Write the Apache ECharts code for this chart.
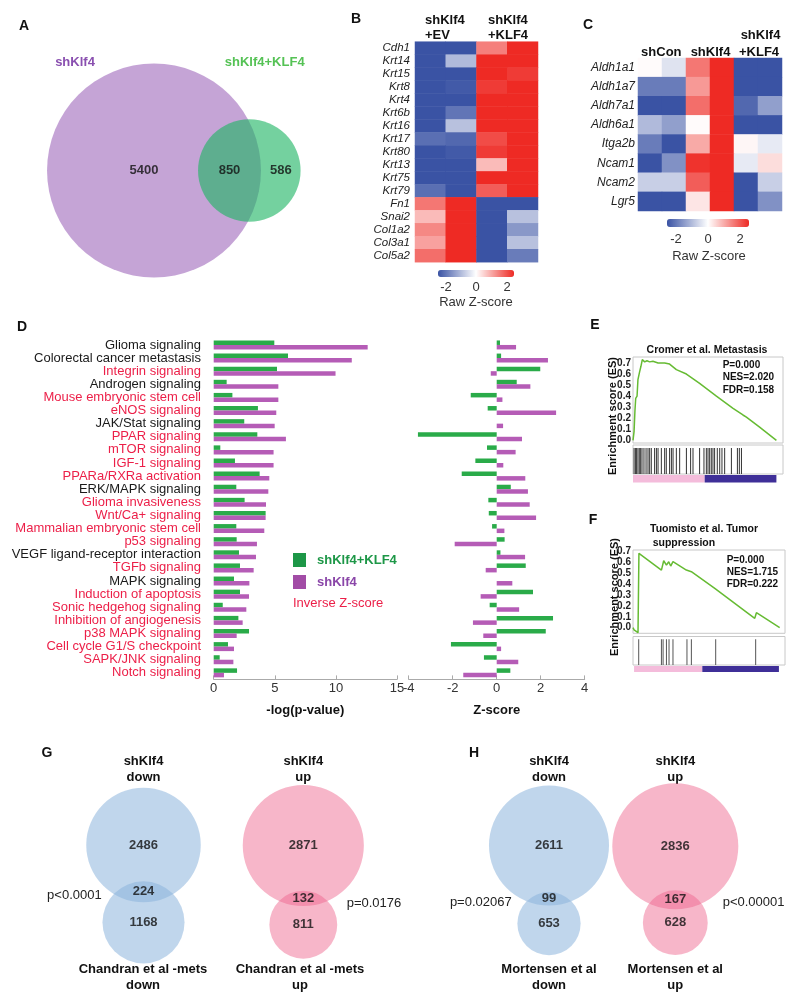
<!DOCTYPE html>
<html>
<head>
<meta charset="utf-8">
<script src="https://cdn.jsdelivr.net/npm/echarts@6/dist/echarts.min.js"></script>
<style>
html, body { margin: 0; background: #fff; }
#main { width: 800px; height: 1008px; }
</style>
</head>
<body>
<div id="main"></div>
<script>
const FONT = '"Liberation Sans", Arial, sans-serif'

// Venn counts: [only first set, overlap, only second set]
const vennA = [5400, 850, 586]
const vennGDown = [2486, 224, 1168]
const vennGUp = [2871, 132, 811]
const vennHDown = [2611, 99, 653]
const vennHUp = [2836, 167, 628]

// panel B heatmap
const bGenes = ['Cdh1', 'Krt14', 'Krt15', 'Krt8', 'Krt4', 'Krt6b', 'Krt16', 'Krt17', 'Krt80', 'Krt13', 'Krt75', 'Krt79', 'Fn1', 'Snai2', 'Col1a2', 'Col3a1', 'Col5a2']
const bSamples = ['EV-1', 'EV-2', 'KLF4-1', 'KLF4-2']
const bZ = [
    [-2.5, -2.5, 1.5, 2.5],
    [-2.5, -1.0, 2.5, 2.5],
    [-2.5, -2.5, 2.5, 2.3],
    [-2.5, -2.4, 2.3, 2.5],
    [-2.5, -2.5, 2.5, 2.5],
    [-2.5, -2.0, 2.5, 2.5],
    [-2.5, -0.9, 2.5, 2.5],
    [-2.1, -2.2, 2.1, 2.5],
    [-2.5, -2.4, 2.3, 2.5],
    [-2.5, -2.5, 0.8, 2.5],
    [-2.5, -2.5, 2.5, 2.5],
    [-2.1, -2.5, 1.9, 2.5],
    [1.6, 2.5, -2.5, -2.5],
    [0.8, 2.5, -2.5, -0.9],
    [1.4, 2.5, -2.5, -1.5],
    [1.1, 2.5, -2.5, -0.9],
    [1.7, 2.5, -2.5, -1.9]
]

// panel C heatmap
const cGenes = ['Aldh1a1', 'Aldh1a7', 'Aldh7a1', 'Aldh6a1', 'Itga2b', 'Ncam1', 'Ncam2', 'Lgr5']
const cSamples = ['shCon-1', 'shCon-2', 'shKlf4-1', 'shKlf4-2', 'KLF4-1', 'KLF4-2']
const cZ = [
    [0.05, -0.4, 1.6, 2.5, -2.5, -2.5],
    [-1.9, -1.9, 1.2, 2.5, -2.5, -2.5],
    [-2.5, -2.5, 1.7, 2.5, -2.2, -1.4],
    [-1.0, -1.4, 0.05, 2.5, -2.5, -2.5],
    [-1.9, -2.5, 1.0, 2.5, 0.1, -0.3],
    [-2.5, -1.6, 2.4, 2.5, -0.3, 0.4],
    [-0.7, -0.7, 1.9, 2.5, -2.5, -0.7],
    [-2.5, -2.5, 0.3, 2.5, -2.5, -1.6]
]

// panel D pathways
const pathways = ['Glioma signaling', 'Colorectal cancer metastasis', 'Integrin signaling', 'Androgen signaling', 'Mouse embryonic stem cell', 'eNOS signaling', 'JAK/Stat signaling', 'PPAR signaling', 'mTOR signaling', 'IGF-1 signaling', 'PPARa/RXRa activation', 'ERK/MAPK signaling', 'Glioma invasiveness', 'Wnt/Ca+ signaling', 'Mammalian embryonic stem cell', 'p53 signaling', 'VEGF ligand-receptor interaction', 'TGFb signaling', 'MAPK signaling', 'Induction of apoptosis', 'Sonic hedgehog signaling', 'Inhibition of angiogenesis', 'p38 MAPK signaling', 'Cell cycle G1/S checkpoint', 'SAPK/JNK signaling', 'Notch signaling']
const inverseZ = [0, 0, 1, 0, 1, 1, 0, 1, 1, 1, 1, 0, 1, 1, 1, 1, 0, 1, 0, 1, 1, 1, 1, 1, 1, 1]
const logpRescue = [4.96, 6.08, 5.18, 1.06, 1.53, 3.62, 2.5, 3.57, 0.54, 1.74, 3.76, 1.85, 2.53, 4.25, 1.85, 1.88, 2.07, 2.15, 1.66, 2.15, 0.74, 2.02, 2.89, 1.17, 0.49, 1.91]
const logpKd = [12.6, 11.3, 9.97, 5.29, 5.29, 5.12, 4.99, 5.91, 4.9, 4.9, 4.55, 4.47, 4.28, 4.25, 4.14, 3.54, 3.46, 3.27, 2.92, 2.89, 2.67, 2.37, 1.88, 1.66, 1.61, 0.84]
const zRescue = [0.15, 0.2, 1.98, 0.91, -1.18, -0.41, 0, -3.58, -0.44, -0.97, -1.59, 0.64, -0.38, -0.36, -0.21, 0.36, 0.17, 1.32, 0, 1.65, -0.32, 2.56, 2.23, -2.08, -0.58, 0.62]
const zKd = [0.88, 2.33, -0.27, 1.53, 0.26, 2.7, 0.29, 1.15, 0.86, 0.3, 1.3, 1.42, 1.5, 1.79, 0.35, -1.91, 1.29, -0.5, 0.71, -0.73, 1.02, -1.08, -0.61, 0.2, 0.98, -1.52]

// panel E: running enrichment score (rank in % of list)
const eRank = [0, 0.7, 1.3, 1.8, 2.7, 3.3, 4.4, 5.3, 6.2, 7.8, 9.3, 11.1, 13.3, 16.7, 21.1, 24.4, 28.9, 35.6, 44.4, 55.6, 66.7, 73.3, 75.6, 84.4, 95.6]
const eES = [0, 0.08, 0.27, 0.38, 0.4, 0.55, 0.62, 0.67, 0.73, 0.71, 0.72, 0.71, 0.715, 0.7, 0.7, 0.69, 0.64, 0.6, 0.515, 0.4, 0.29, 0.23, 0.21, 0.12, 0]
const eHits = [0.7, 1.6, 2.4, 3.3, 4.2, 5.1, 6.0, 7.3, 8.7, 10, 11.1, 12.2, 14.4, 15.6, 16.7, 18.9, 21.1, 22.2, 24.4, 25.6, 26.7, 28.9, 31.1, 35.6, 38.4, 40, 44.4, 47.3, 48.9, 50, 51.1, 52.2, 53.3, 54.4, 56.2, 57.8, 59.3, 61.1, 65.6, 69.6, 70.9, 72.3]
const eBand = [0, 47.8, 95.6]

// panel F
const fRank = [0, 0.7, 3.3, 3.9, 18.7, 20.2, 22, 23.5, 24.8, 26.3, 35.1, 38.4, 53.8, 80.1, 81.2, 96.5]
const fES = [0, -0.02, -0.046, 0.685, 0.53, 0.617, 0.577, 0.608, 0.568, 0.608, 0.531, 0.516, 0.362, 0.086, 0.138, 0]
const fHits = [3.75, 18.7, 19.8, 22, 23.7, 26.3, 35.5, 38.4, 54.4, 80.7]
const fBand = [0.7, 45.6, 96]

// ---------- venn geometry ----------
function lensArea(r1, r2, d) {
    if (d >= r1 + r2) return 0
    if (d <= Math.abs(r1 - r2)) return Math.PI * Math.min(r1, r2) ** 2
    const a1 = Math.acos((d * d + r1 * r1 - r2 * r2) / (2 * d * r1))
    const a2 = Math.acos((d * d + r2 * r2 - r1 * r1) / (2 * d * r2))
    return r1 * r1 * a1 + r2 * r2 * a2 - 0.5 * Math.sqrt((-d + r1 + r2) * (d + r1 - r2) * (d - r1 + r2) * (d + r1 + r2))
}

const vennColors = ['rgba(150,90,180,0.55)', 'rgba(30,180,100,0.62)', 'rgba(140,180,220,0.55)', 'rgba(238,100,140,0.47)']
const circles = []
const vennLabels = []

function venn(counts, spot) {
    const [a, ab, b] = counts
    const r1 = spot.k * Math.sqrt(a + ab)
    const r2 = spot.k * Math.sqrt(b + ab)
    const target = Math.PI * spot.k * spot.k * ab
    let lo = Math.abs(r1 - r2), hi = r1 + r2
    for (let i = 0; i < 60; i++) {
        const mid = (lo + hi) / 2
        if (lensArea(r1, r2, mid) > target) lo = mid
        else hi = mid
    }
    const d = (lo + hi) / 2
    const at = t => [spot.x + spot.dir[0] * t, spot.y + spot.dir[1] * t]
    circles.push([spot.x, spot.y, r1, spot.colors[0]])
    circles.push([...at(d), r2, spot.colors[1]])
    vennLabels.push([...at(spot.shift), a])
    vennLabels.push([...at((d - r2 + r1) / 2), ab])
    vennLabels.push([...at(spot.crescent ? (r1 + d + r2) / 2 : d), b])
}

venn(vennA, { x: 154, y: 170.5, dir: [1, 0], k: 1.353, shift: -10, crescent: true, colors: [0, 1] })
venn(vennGDown, { x: 143.5, y: 845, dir: [0, 1], k: 1.10, shift: 0, crescent: false, colors: [2, 2] })
venn(vennGUp, { x: 303.3, y: 845.5, dir: [0, 1], k: 1.105, shift: 0, crescent: false, colors: [3, 3] })
venn(vennHDown, { x: 549, y: 845.5, dir: [0, 1], k: 1.153, shift: 0, crescent: false, colors: [2, 2] })
venn(vennHUp, { x: 675.3, y: 846.3, dir: [0, 1], k: 1.15, shift: 0, crescent: false, colors: [3, 3] })

// ---------- helpers ----------
function txt(x, y, text, o = {}) {
    return {
        type: 'text', x, y, rotation: o.rotate || 0,
        style: {
            text,
            fill: o.color || '#111',
            fontFamily: FONT,
            fontSize: o.size || 13,
            fontWeight: o.bold ? 'bold' : 'normal',
            textAlign: o.align || 'center',
            align: o.align || 'center',
            textVerticalAlign: 'middle',
            verticalAlign: 'middle'
        }
    }
}

const heatData = (m) => {
    const out = []
    m.forEach((row, r) => row.forEach((v, c) => out.push([c, r, v])))
    return out
}

const HEAT = ['#3a53a4', '#ffffff', '#ee2a24']
const GREEN = '#2aab49'
const PURPLE = '#b55cb6'
const RED_TXT = '#ec1f48'

const hiddenX = (gi, min, max) => ({ gridIndex: gi, type: 'value', min, max, show: false })
const hiddenY = (gi, min, max) => ({ gridIndex: gi, type: 'value', min, max, show: false })

const esYAxis = (gi, min, max) => ({
    gridIndex: gi, type: 'value', min, max,
    axisLine: { show: false }, axisTick: { show: false }, splitLine: { show: false },
    axisLabel: {
        customValues: [0, 0.1, 0.2, 0.3, 0.4, 0.5, 0.6, 0.7],
        formatter: v => v.toFixed(1),
        fontSize: 10, fontWeight: 'bold', color: '#222', margin: 2
    }
})

const gridBox = { show: true, borderColor: '#c8c8c8', borderWidth: 1 }

function bandItem(params, api) {
    const p0 = api.coord([api.value(0), 1])
    const p1 = api.coord([api.value(1), 0])
    return {
        type: 'rect',
        shape: { x: p0[0], y: p0[1], width: p1[0] - p0[0], height: p1[1] - p0[1] },
        style: { fill: api.value(2) ? '#3f2f98' : '#f4bcdb' }
    }
}

const option = {
    animation: false,
    textStyle: { fontFamily: FONT },
    grid: [
        { left: 0, top: 0, width: 800, height: 1008 },                 // 0 venn canvas
        { left: 415, top: 41.7, width: 123, height: 220.5 },           // 1 heatmap B
        { left: 638, top: 58, width: 144, height: 153 },               // 2 heatmap C
        { left: 213.7, top: 338.4, width: 183.3, height: 341 },        // 3 D -log p
        { left: 408.7, top: 338.4, width: 176, height: 341 },          // 4 D z-score
        Object.assign({ left: 633, top: 357, width: 150, height: 86 }, gridBox),   // 5 E ES
        Object.assign({ left: 633, top: 445, width: 150, height: 29 }, gridBox),   // 6 E hits
        { left: 633, top: 475, width: 150, height: 7.5 },              // 7 E band
        Object.assign({ left: 633, top: 550, width: 152, height: 83.3 }, gridBox), // 8 F ES
        Object.assign({ left: 633, top: 636.5, width: 152, height: 28.5 }, gridBox), // 9 F hits
        { left: 633, top: 666, width: 152, height: 6 }                 // 10 F band
    ],
    xAxis: [
        hiddenX(0, 0, 800),
        { gridIndex: 1, type: 'category', data: bSamples, show: false },
        { gridIndex: 2, type: 'category', data: cSamples, show: false },
        {
            gridIndex: 3, type: 'value', min: 0, max: 15, interval: 5,
            axisLine: { show: true, lineStyle: { color: '#aaa' } },
            axisTick: { show: true, inside: true, length: 4, lineStyle: { color: '#aaa' } },
            splitLine: { show: false },
            axisLabel: { fontSize: 13, color: '#333', margin: 3 },
            name: '-log(p-value)', nameLocation: 'middle', nameGap: 25,
            nameTextStyle: { fontSize: 13, fontWeight: 'bold', color: '#111' }
        },
        {
            gridIndex: 4, type: 'value', min: -4, max: 4, interval: 2,
            axisLine: { show: true, onZero: false, lineStyle: { color: '#aaa' } },
            axisTick: { show: true, inside: true, length: 4, lineStyle: { color: '#aaa' } },
            splitLine: { show: false },
            axisLabel: { fontSize: 13, color: '#333', margin: 3 },
            name: 'Z-score', nameLocation: 'middle', nameGap: 25,
            nameTextStyle: { fontSize: 13, fontWeight: 'bold', color: '#111' }
        },
        hiddenX(5, 0, 100),
        hiddenX(6, 0, 100),
        hiddenX(7, 0, 100),
        hiddenX(8, 0, 100),
        hiddenX(9, 0, 100),
        hiddenX(10, 0, 100)
    ],
    yAxis: [
        Object.assign(hiddenY(0, 0, 1008), { inverse: true }),
        {
            gridIndex: 1, type: 'category', data: bGenes, inverse: true,
            axisLine: { show: false }, axisTick: { show: false },
            axisLabel: { interval: 0, fontSize: 11.5, fontStyle: 'italic', color: '#222', margin: 5 }
        },
        {
            gridIndex: 2, type: 'category', data: cGenes, inverse: true,
            axisLine: { show: false }, axisTick: { show: false },
            axisLabel: { interval: 0, fontSize: 12, fontStyle: 'italic', color: '#222', margin: 3 }
        },
        {
            gridIndex: 3, type: 'category', data: pathways, inverse: true,
            axisLine: { show: false }, axisTick: { show: false },
            axisLabel: {
                interval: 0, margin: 12.7,
                formatter: (v, i) => inverseZ[i] ? '{r|' + v + '}' : '{k|' + v + '}',
                rich: {
                    r: { color: RED_TXT, fontSize: 13, fontFamily: FONT },
                    k: { color: '#1a1a1a', fontSize: 13, fontFamily: FONT }
                }
            }
        },
        {
            gridIndex: 4, type: 'category', data: pathways, inverse: true,
            axisLine: { show: false }, axisTick: { show: false }, axisLabel: { show: false }
        },
        esYAxis(5, -0.023, 0.754),
        hiddenY(6, 0, 1),
        hiddenY(7, 0, 1),
        esYAxis(8, -0.052, 0.716),
        hiddenY(9, 0, 1),
        hiddenY(10, 0, 1)
    ],
    visualMap: [
        {
            type: 'continuous', seriesIndex: 2, min: -2.5, max: 2.5,
            orient: 'horizontal', left: 438, top: 270, itemWidth: 7, itemHeight: 76,
            calculable: false, padding: 0, inRange: { color: HEAT }
        },
        {
            type: 'continuous', seriesIndex: 3, min: -2.5, max: 2.5,
            orient: 'horizontal', left: 667, top: 219, itemWidth: 8, itemHeight: 82,
            calculable: false, padding: 0, inRange: { color: HEAT }
        }
    ],
    legend: {
        orient: 'vertical', left: 293, top: 553, itemWidth: 13, itemHeight: 14, itemGap: 8,
        icon: 'rect', padding: 0, selectedMode: false,
        textStyle: { fontSize: 13, fontWeight: 'bold', fontFamily: FONT, padding: [0, 0, 0, 6] },
        data: [
            { name: 'shKlf4+KLF4', itemStyle: { color: '#1d9747' }, textStyle: { color: '#1d9747' } },
            { name: 'shKlf4', itemStyle: { color: '#a24ca6' }, textStyle: { color: '#8a46a8' } }
        ]
    },
    series: [
        {
            type: 'custom', xAxisIndex: 0, yAxisIndex: 0, data: circles,
            renderItem(params, api) {
                const c = api.coord([api.value(0), api.value(1)])
                const r = api.size([api.value(2), 0])[0]
                return { type: 'circle', shape: { cx: c[0], cy: c[1], r }, style: { fill: vennColors[api.value(3)] } }
            }
        },
        {
            type: 'scatter', xAxisIndex: 0, yAxisIndex: 0, data: vennLabels, symbolSize: 1,
            itemStyle: { color: 'rgba(0,0,0,0)' }, z: 5, silent: true,
            label: { show: true, position: 'inside', formatter: p => String(p.value[2]), fontSize: 13, fontWeight: 'bold', color: '#111', fontFamily: FONT }
        },
        { type: 'heatmap', xAxisIndex: 1, yAxisIndex: 1, data: heatData(bZ) },
        { type: 'heatmap', xAxisIndex: 2, yAxisIndex: 2, data: heatData(cZ) },
        { type: 'bar', name: 'shKlf4+KLF4', xAxisIndex: 3, yAxisIndex: 3, data: logpRescue, barWidth: 4.5, barGap: '0%', itemStyle: { color: GREEN } },
        { type: 'bar', name: 'shKlf4', xAxisIndex: 3, yAxisIndex: 3, data: logpKd, barWidth: 4.5, barGap: '0%', itemStyle: { color: PURPLE } },
        { type: 'bar', name: 'shKlf4+KLF4', xAxisIndex: 4, yAxisIndex: 4, data: zRescue, barWidth: 4.5, barGap: '0%', itemStyle: { color: GREEN } },
        { type: 'bar', name: 'shKlf4', xAxisIndex: 4, yAxisIndex: 4, data: zKd, barWidth: 4.5, barGap: '0%', itemStyle: { color: PURPLE } },
        {
            type: 'line', xAxisIndex: 5, yAxisIndex: 5, data: eRank.map((x, i) => [x, eES[i]]),
            symbol: 'none', lineStyle: { color: '#66bb33', width: 1.5 }
        },
        {
            type: 'bar', xAxisIndex: 6, yAxisIndex: 6, data: eHits.map(x => [x, 0.9]),
            barWidth: 1, itemStyle: { color: '#333' }
        },
        {
            type: 'custom', xAxisIndex: 7, yAxisIndex: 7, data: [[eBand[0], eBand[1], 0], [eBand[1], eBand[2], 1]],
            renderItem: bandItem
        },
        {
            type: 'line', xAxisIndex: 8, yAxisIndex: 8, data: fRank.map((x, i) => [x, fES[i]]),
            symbol: 'none', lineStyle: { color: '#66bb33', width: 1.5 }
        },
        {
            type: 'bar', xAxisIndex: 9, yAxisIndex: 9, data: fHits.map(x => [x, 0.9]),
            barWidth: 1, itemStyle: { color: '#555' }
        },
        {
            type: 'custom', xAxisIndex: 10, yAxisIndex: 10, data: [[fBand[0], fBand[1], 0], [fBand[1], fBand[2], 1]],
            renderItem: bandItem
        }
    ],
    graphic: [
        // panel letters
        txt(24, 26, 'A', { bold: true, size: 14 }),
        txt(356, 19, 'B', { bold: true, size: 14 }),
        txt(588, 25, 'C', { bold: true, size: 14 }),
        txt(22, 327, 'D', { bold: true, size: 14 }),
        txt(595, 325, 'E', { bold: true, size: 14 }),
        txt(593, 520, 'F', { bold: true, size: 14 }),
        txt(47, 753, 'G', { bold: true, size: 14 }),
        txt(474, 753, 'H', { bold: true, size: 14 }),
        // A
        txt(75, 62, 'shKlf4', { bold: true, color: '#8a50b0' }),
        txt(264.7, 62, 'shKlf4+KLF4', { bold: true, color: '#55c255' }),
        // B
        txt(425, 20, 'shKlf4', { bold: true, align: 'left' }),
        txt(425, 35, '+EV', { bold: true, align: 'left' }),
        txt(488, 20, 'shKlf4', { bold: true, align: 'left' }),
        txt(488, 35, '+KLF4', { bold: true, align: 'left' }),
        txt(446, 287, '-2', { color: '#333' }),
        txt(476, 287, '0', { color: '#333' }),
        txt(507, 287, '2', { color: '#333' }),
        txt(476, 302, 'Raw Z-score', { color: '#333' }),
        // C
        txt(661.3, 52.7, 'shCon', { bold: true }),
        txt(710.5, 52.7, 'shKlf4', { bold: true }),
        txt(760.5, 35, 'shKlf4', { bold: true }),
        txt(759, 52.7, '+KLF4', { bold: true }),
        txt(676, 239, '-2', { color: '#333' }),
        txt(708, 239, '0', { color: '#333' }),
        txt(740, 239, '2', { color: '#333' }),
        txt(709, 256, 'Raw Z-score', { color: '#333' }),
        // D
        txt(293, 603, 'Inverse Z-score', { color: RED_TXT, align: 'left' }),
        // E
        txt(707, 350, 'Cromer et al. Metastasis', { bold: true, size: 10.5 }),
        txt(722.7, 365, 'P=0.000', { bold: true, size: 10, align: 'left' }),
        txt(722.7, 377.7, 'NES=2.020', { bold: true, size: 10, align: 'left' }),
        txt(722.7, 390, 'FDR=0.158', { bold: true, size: 10, align: 'left' }),
        txt(613, 416, 'Enrichment score (ES)', { bold: true, size: 11, rotate: Math.PI / 2 }),
        // F
        txt(650, 529.3, 'Tuomisto et al. Tumor', { bold: true, size: 10.5, align: 'left' }),
        txt(652.7, 542.7, 'suppression', { bold: true, size: 10.5, align: 'left' }),
        txt(726.7, 560.7, 'P=0.000', { bold: true, size: 10, align: 'left' }),
        txt(726.7, 572.3, 'NES=1.715', { bold: true, size: 10, align: 'left' }),
        txt(726.7, 584.3, 'FDR=0.222', { bold: true, size: 10, align: 'left' }),
        txt(615, 597, 'Enrichment score (ES)', { bold: true, size: 11, rotate: Math.PI / 2 }),
        // G
        txt(143.5, 761.7, 'shKlf4', { bold: true }),
        txt(143.5, 777.3, 'down', { bold: true }),
        txt(303.3, 761.7, 'shKlf4', { bold: true }),
        txt(303.3, 777.3, 'up', { bold: true }),
        txt(101.7, 895.7, 'p<0.0001', { align: 'right', color: '#222' }),
        txt(346.7, 903.3, 'p=0.0176', { align: 'left', color: '#222' }),
        txt(143, 969.3, 'Chandran et al -mets', { bold: true }),
        txt(143, 985, 'down', { bold: true }),
        txt(300, 969.3, 'Chandran et al -mets', { bold: true }),
        txt(300, 985, 'up', { bold: true }),
        // H
        txt(549, 761.7, 'shKlf4', { bold: true }),
        txt(549, 777.3, 'down', { bold: true }),
        txt(675.3, 761.7, 'shKlf4', { bold: true }),
        txt(675.3, 777.3, 'up', { bold: true }),
        txt(511.7, 902.7, 'p=0.02067', { align: 'right', color: '#222' }),
        txt(722.7, 902.7, 'p<0.00001', { align: 'left', color: '#222' }),
        txt(549, 969.3, 'Mortensen et al', { bold: true }),
        txt(549, 985, 'down', { bold: true }),
        txt(675.3, 969.3, 'Mortensen et al', { bold: true }),
        txt(675.3, 985, 'up', { bold: true })
    ]
}

const chart = echarts.init(document.getElementById('main'))
chart.setOption(option)
</script>
</body>
</html>
